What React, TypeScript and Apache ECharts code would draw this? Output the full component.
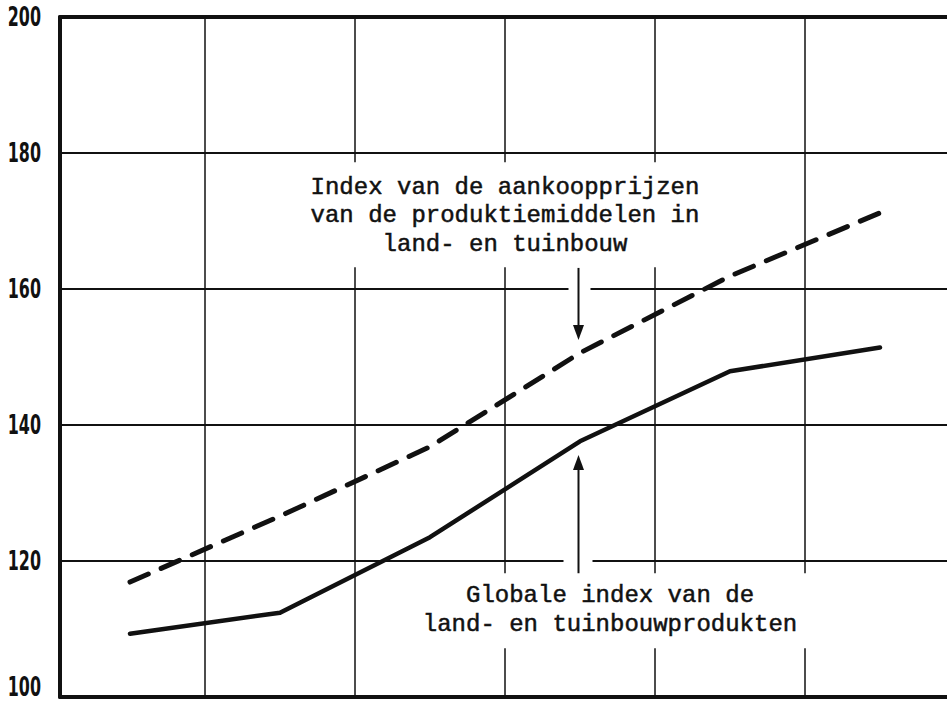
import React, { useEffect, useRef } from "react";
import * as echarts from "echarts";

// Period index (centre of each yearly column)
const periods = [0.5, 1.5, 2.5, 3.5, 4.5, 5.5];
// Globale index van de land- en tuinbouwprodukten
const produceIndex = [109.3, 112.4, 123.5, 137.6, 147.9, 151.4];
// Index van de aankoopprijzen van de produktiemiddelen
const inputPriceIndex = [116.9, 126.6, 136.8, 150.6, 161.9, 171.2];

const yMin = 100;
const yMax = 200;
const yStep = 20;
const yTickLabels = ["100", "120", "140", "160", "180", "200"];

const upperLabel = ["Index van de aankoopprijzen", "van de produktiemiddelen in", "land- en tuinbouw"];
const lowerLabel = ["Globale index van de", "land- en tuinbouwprodukten"];

const INK = "#111";

export default function App() {
  const ref = useRef<HTMLDivElement>(null);

  useEffect(() => {
    if (!ref.current) return;
    const chart = echarts.init(ref.current, undefined, { renderer: "svg" });
    const xMin = 1 - 145 / 150;
    const xMax = 6;
    chart.setOption({
      animation: false,
      backgroundColor: "#fff",
      grid: { left: 60, top: 17, width: 895, height: 680, outerBoundsMode: "none", containLabel: false },
      xAxis: [
        {
          type: "value",
          min: xMin,
          max: xMax,
          minInterval: 1,
          maxInterval: 1,
          axisLine: { show: true, onZero: false, lineStyle: { color: INK, width: 4 } },
          axisTick: { show: false },
          axisLabel: { show: false },
          splitLine: { show: true, lineStyle: { color: INK, width: 1.5 } },
        },
        {
          type: "value",
          position: "top",
          min: xMin,
          max: xMax,
          minInterval: 1,
          maxInterval: 1,
          axisLine: { show: true, onZero: false, lineStyle: { color: INK, width: 4 } },
          axisTick: { show: false },
          axisLabel: { show: false },
          splitLine: { show: false },
        },
      ],
      yAxis: {
        type: "value",
        min: yMin,
        max: yMax,
        interval: yStep,
        axisLine: { show: true, onZero: false, lineStyle: { color: INK, width: 4 } },
        axisTick: { show: false },
        axisLabel: { show: false },
        splitLine: { show: true, lineStyle: { color: INK, width: 2 } },
      },
      series: [
        {
          type: "line",
          z: 100,
          symbol: "none",
          data: periods.map((p, i) => [p, produceIndex[i]]),
          lineStyle: { color: INK, width: 4.5, cap: "round", join: "round" },
        },
        {
          type: "line",
          z: 100,
          symbol: "none",
          data: periods.map((p, i) => [p, inputPriceIndex[i]]),
          lineStyle: { color: INK, width: 5, type: [20, 14], cap: "round", join: "round" },
        },
      ],
    });

    const px = (x: number, y: number) =>
      chart.convertToPixel({ xAxisIndex: 0, yAxisIndex: 0 }, [x, y]) as number[];

    const upperAnchor = px(3.0, 173.8);
    const lowerAnchor = px(3.7, 113.8);
    const arrowX = px(3.49, 100)[0];
    const upTop = px(3.49, 163.1)[1];
    const upTip = px(3.49, 152.5)[1];
    const loBottom = px(3.49, 118.2)[1];
    const loTip = px(3.49, 135.6)[1];
    const y160 = px(0, 160)[1];
    const y120 = px(0, 120)[1];

    const white = { fill: "#fff" };
    const graphic: any[] = [
      { type: "rect", z: 50, shape: { x: 300, y: upperAnchor[1] - 33, width: 410, height: 105 }, style: white },
      { type: "rect", z: 50, shape: { x: lowerAnchor[0] - 195, y: lowerAnchor[1] - 30, width: 400, height: 75 }, style: white },
      { type: "rect", z: 50, shape: { x: arrowX - 10, y: y160 - 3, width: 22, height: 6 }, style: white },
      { type: "rect", z: 50, shape: { x: arrowX - 15, y: y120 - 3, width: 29, height: 6 }, style: white },
      { type: "line", z: 60, shape: { x1: arrowX, y1: upTop, x2: arrowX, y2: upTip - 12 }, style: { stroke: INK, lineWidth: 2 } },
      {
        type: "polygon",
        z: 60,
        shape: { points: [[arrowX - 5.5, upTip - 15], [arrowX + 5.5, upTip - 15], [arrowX, upTip]] },
        style: { fill: INK },
      },
      { type: "line", z: 60, shape: { x1: arrowX, y1: loBottom, x2: arrowX, y2: loTip + 12 }, style: { stroke: INK, lineWidth: 2 } },
      {
        type: "polygon",
        z: 60,
        shape: { points: [[arrowX - 5.5, loTip + 15], [arrowX + 5.5, loTip + 15], [arrowX, loTip]] },
        style: { fill: INK },
      },
    ];

    yTickLabels.forEach((t) => {
      const yPix = px(0, Number(t))[1];
      graphic.push({
        type: "text",
        z: 70,
        x: 41,
        y: Math.min(yPix, 687),
        scaleX: 0.68,
        style: {
          text: t,
          fill: INK,
          fontFamily: "DejaVu Sans Condensed",
          fontWeight: "bold",
          fontSize: 26,
          align: "right",
          verticalAlign: "middle",
        },
      });
    });

    const textStyle = (t: string) => ({
      text: t,
      fill: INK,
      fontFamily: "Liberation Mono",
      fontSize: 24,
      align: "center",
      verticalAlign: "middle",
      stroke: INK,
      lineWidth: 0.5,
    });
    upperLabel.forEach((t, i) => {
      graphic.push({ type: "text", z: 70, x: upperAnchor[0], y: upperAnchor[1] - 8 + i * 28.5, style: textStyle(t) });
    });
    lowerLabel.forEach((t, i) => {
      graphic.push({ type: "text", z: 70, x: lowerAnchor[0], y: lowerAnchor[1] - 8 + i * 29, style: textStyle(t) });
    });
    chart.setOption({ graphic });

    return () => chart.dispose();
  }, []);

  return (
    <div
      ref={ref}
      style={{ position: "fixed", left: 0, top: 0, width: 947, height: 701, background: "#fff" }}
    />
  );
}
